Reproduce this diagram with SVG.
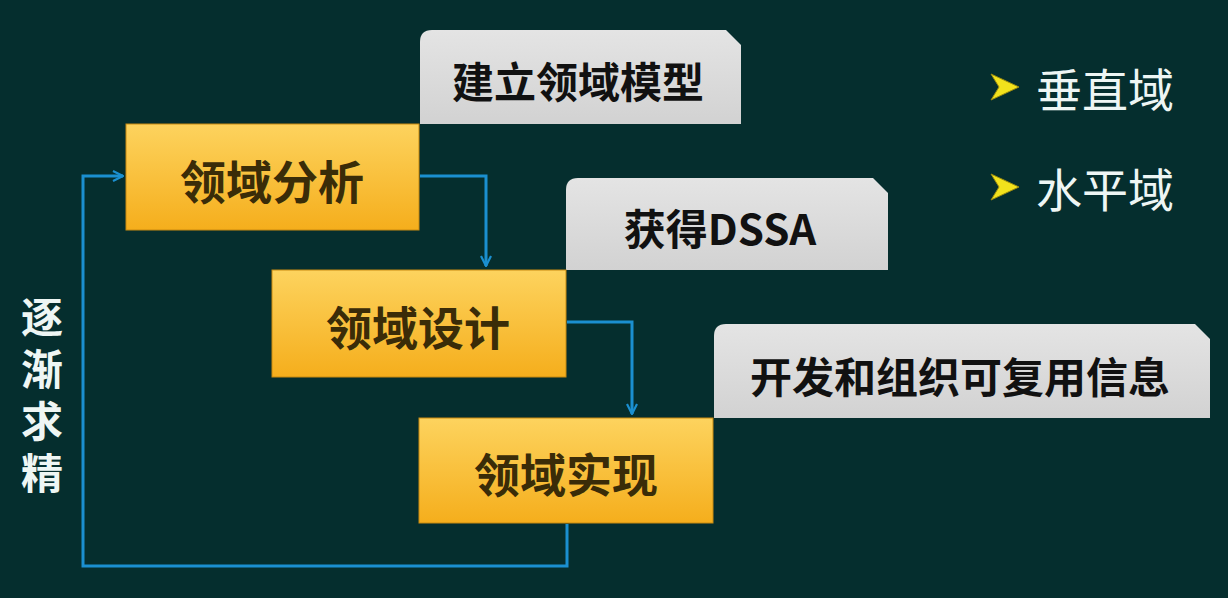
<svg xmlns="http://www.w3.org/2000/svg" width="1228" height="598" viewBox="0 0 1228 598">
<defs>
<linearGradient id="og" x1="0" y1="0" x2="0" y2="1">
<stop offset="0" stop-color="#fdd35e"/>
<stop offset="1" stop-color="#f5ae1c"/>
</linearGradient>
<linearGradient id="gg" x1="0" y1="0" x2="0" y2="1">
<stop offset="0" stop-color="#e4e4e4"/>
<stop offset="1" stop-color="#d2d2d2"/>
</linearGradient>
<marker id="ah" viewBox="0 0 12 12" refX="11" refY="6" markerWidth="12" markerHeight="12" markerUnits="userSpaceOnUse" orient="auto">
<path d="M1,1 L11,6 L1,11" fill="none" stroke="#1b8fd0" stroke-width="2.2"/>
</marker>
<path id="bul" d="M0,-13 L28,0 L0,13 L8,0 Z"/>
</defs>
<style>
.ob{fill:url(#og);stroke:#c98a10;stroke-width:1}
.gb{fill:url(#gg)}
.ot{font-family:"Noto Sans CJK SC","Noto Sans",sans-serif;font-weight:bold;font-size:46px;fill:#3a2c08;text-anchor:middle;dominant-baseline:central}
.gt{font-family:"Noto Sans CJK SC","Noto Sans",sans-serif;font-weight:bold;font-size:42px;fill:#111;text-anchor:middle;dominant-baseline:central}
.wt{font-family:"Noto Sans CJK SC","Noto Sans",sans-serif;font-size:46px;fill:#eef6f4;dominant-baseline:central}
.vt{font-family:"Noto Sans CJK SC","Noto Sans",sans-serif;font-weight:bold;font-size:42px;fill:#eef6f4;writing-mode:vertical-rl;letter-spacing:10px}
.cn{fill:none;stroke:#1b8fd0;stroke-width:3}
.bu{fill:#f2e21c;stroke:#9a8a10;stroke-width:1}
</style>
<rect width="1228" height="598" fill="#052e2e"/>

<g id="connectors">
<path class="cn" d="M420,176 H486 V266" marker-end="url(#ah)"/>
<path class="cn" d="M567,322 H632 V414" marker-end="url(#ah)"/>
<path class="cn" d="M567,524 V566 H83 V176 H123" marker-end="url(#ah)"/>
</g>

<g id="note1">
<path class="gb" d="M420,124 V42 Q420,30 432,30 H726 L741,45 V124 Z"/>
<text class="gt" x="578" y="79">建立领域模型</text>
</g>
<g id="note2">
<path class="gb" d="M566,270 V190 Q566,178 578,178 H873 L888,193 V270 Z"/>
<text class="gt" x="720" y="226">获得DSSA</text>
</g>
<g id="note3">
<path class="gb" d="M714,418 V336 Q714,324 726,324 H1195 L1210,339 V418 Z"/>
<text class="gt" x="960" y="374">开发和组织可复用信息</text>
</g>

<g id="analysis">
<rect class="ob" x="126" y="124" width="293" height="106"/>
<text class="ot" x="272" y="179">领域分析</text>
</g>
<g id="design">
<rect class="ob" x="272" y="270" width="294" height="107"/>
<text class="ot" x="418" y="325">领域设计</text>
</g>
<g id="implement">
<rect class="ob" x="419" y="418" width="294" height="105"/>
<text class="ot" x="566" y="472">领域实现</text>
</g>

<g id="refine">
<text class="vt" x="42" y="296">逐渐求精</text>
</g>

<g id="legend">
<use href="#bul" class="bu" x="991" y="87"/>
<text class="wt" x="1036" y="87">垂直域</text>
<use href="#bul" class="bu" x="991" y="187"/>
<text class="wt" x="1036" y="187">水平域</text>
</g>
</svg>
